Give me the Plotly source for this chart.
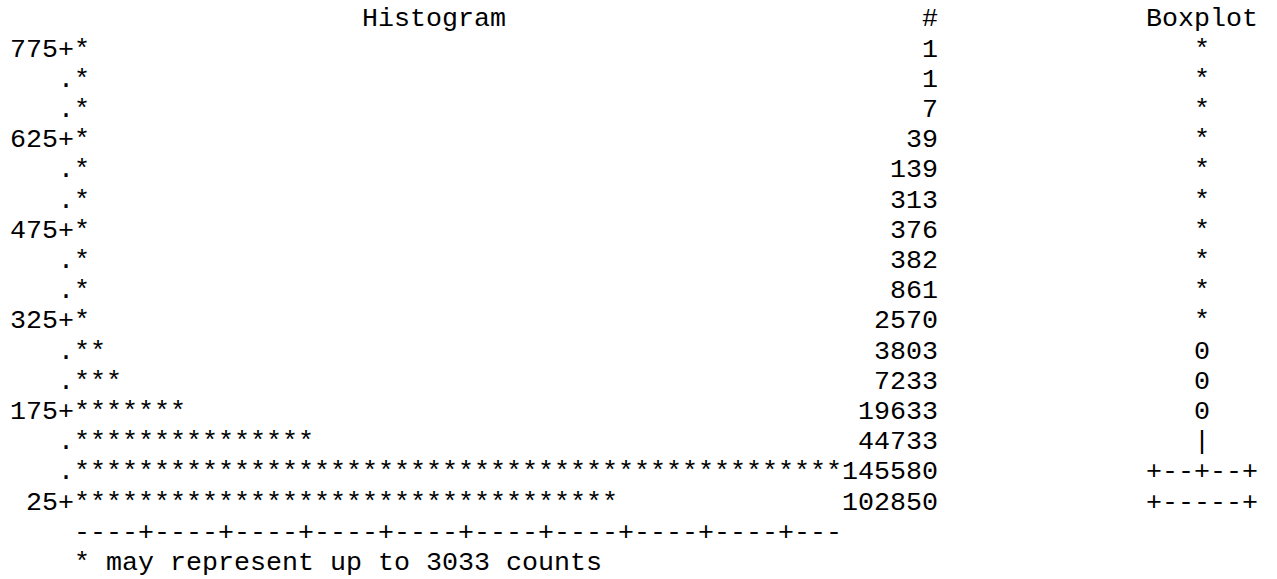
import math
import plotly.graph_objects as go

# ---- data (SAS PROC UNIVARIATE line-printer plot) ----
bin_midpoints = [775, 725, 675, 625, 575, 525, 475, 425, 375, 325, 275, 225, 175, 125, 75, 25]
labeled_bins = [775, 625, 475, 325, 175, 25]
counts = [1, 1, 7, 39, 139, 313, 376, 382, 861, 2570, 3803, 7233, 19633, 44733, 145580, 102850]
box_symbols = ["*", "*", "*", "*", "*", "*", "*", "*", "*", "*", "0", "0", "0", "|", "+--+--+", "+-----+"]
counts_per_star = 3033
headers = ["Histogram", "#", "Boxplot"]
footnote = "* may represent up to 3033 counts"

# ---- layout constants (character grid) ----
W, H = 1277, 579
CHAR_W = 16.0          # px per monospace column
X0 = 10.0              # px of column 0 left edge
ROW_H = 30.2           # px per text row
ROW0_Y = 50.0          # px centre of first bin row
FONT = dict(family="Liberation Mono, Courier New, monospace", size=CHAR_W / 0.6, color="black")

STAR_COL = 4           # first star column
COUNT_END_COL = 58     # counts right-aligned, end before col 58
BOX_CENTER_COL = 74.5  # boxplot symbols centred on col 74
HIST_TITLE_COL = 22
BOX_TITLE_COL = 71


def centre(start_col, s):
    return start_col + len(s) / 2.0


rows = list(range(len(bin_midpoints)))

# stem labels: "775+" or "   ." right-aligned to column 3
label_txt = [(f"{v}+" if v in labeled_bins else ".") for v in bin_midpoints]
label_x = [4 - len(t) / 2.0 for t in label_txt]

# stars
star_txt = ["*" * math.ceil(c / counts_per_star) for c in counts]
star_x = [centre(STAR_COL, t) for t in star_txt]

# counts right-aligned
count_txt = [str(c) for c in counts]
count_x = [COUNT_END_COL - len(t) / 2.0 for t in count_txt]

# boxplot
box_x = [BOX_CENTER_COL for _ in box_symbols]

# headers
head_x = [centre(HIST_TITLE_COL, headers[0]), COUNT_END_COL - 0.5, centre(BOX_TITLE_COL, headers[2])]
head_y = [-1, -1, -1]

# axis & footnote
max_stars = max(len(t) for t in star_txt)
axis_txt = ("----+" * 10)[:max_stars]
axis_row = len(bin_midpoints)
foot_row = axis_row + 1

fig = go.Figure()


def add_text(xs, ys, texts):
    fig.add_trace(go.Scatter(
        x=xs, y=ys, text=[t.replace(" ", "\u00a0") for t in texts], mode="text",
        textposition="middle center", textfont=FONT, hoverinfo="skip", showlegend=False,
        cliponaxis=False))


add_text(head_x, head_y, headers)
add_text(label_x, rows, label_txt)
add_text(star_x, rows, star_txt)
add_text(count_x, rows, count_txt)
add_text(box_x, rows, box_symbols)
add_text([centre(STAR_COL, axis_txt)], [axis_row], [axis_txt])
add_text([centre(STAR_COL, footnote)], [foot_row], [footnote])

x_lo = (0 - X0) / CHAR_W
x_hi = (W - X0) / CHAR_W
y_top = (0 - ROW0_Y) / ROW_H
y_bot = (H - ROW0_Y) / ROW_H

fig.update_layout(
    width=W, height=H, margin=dict(l=0, r=0, t=0, b=0),
    paper_bgcolor="white", plot_bgcolor="white",
    xaxis=dict(range=[x_lo, x_hi], visible=False, fixedrange=True),
    yaxis=dict(range=[y_bot, y_top], visible=False, fixedrange=True),
    hovermode=False,
)

# remove the browser's default 8px page margin so the figure fills the window
fig.write_html("out.html",
               config={"displayModeBar": False, "staticPlot": True},
               post_script="document.body.style.margin='0';document.body.style.overflow='hidden';")
